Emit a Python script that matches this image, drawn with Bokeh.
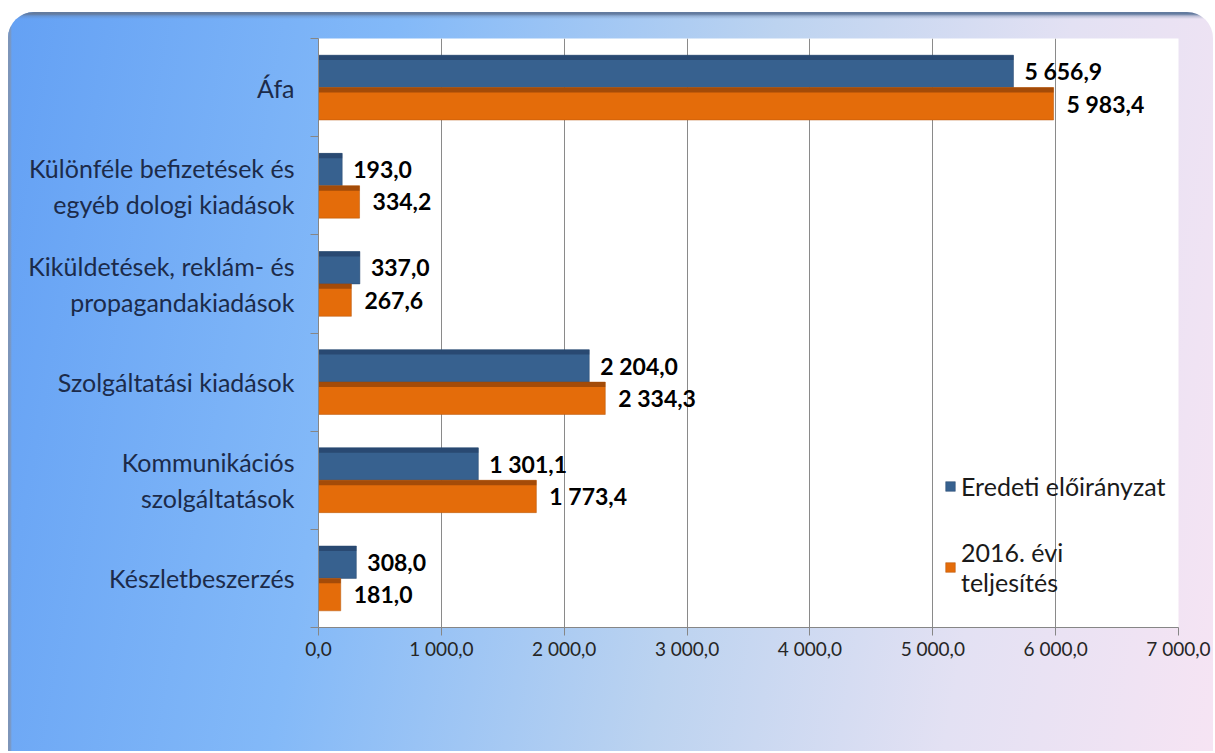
from bokeh.plotting import figure
from bokeh.models import (Range1d, LinearAxis, FixedTicker,
                          ColumnDataSource, Legend, LegendItem)
from bokeh.transform import dodge
from bokeh.core.properties import value
from bokeh.embed import file_html
from bokeh.resources import INLINE

# ---- data ----
categories = [
    "Áfa",
    "Különféle befizetések és\negyéb dologi kiadások",
    "Kiküldetések, reklám- és\npropagandakiadások",
    "Szolgáltatási kiadások",
    "Kommunikációs\nszolgáltatások",
    "Készletbeszerzés",
]
eredeti = [5656.9, 193.0, 337.0, 2204.0, 1301.1, 308.0]
teljesites = [5983.4, 334.2, 267.6, 2334.3, 1773.4, 181.0]
series_names = ["Eredeti előirányzat", "2016. évi\nteljesítés"]
x_ticks = [0, 1000, 2000, 3000, 4000, 5000, 6000, 7000]
x_tick_labels = ["0,0", "1 000,0", "2 000,0", "3 000,0", "4 000,0", "5 000,0", "6 000,0", "7 000,0"]


def fmt(v):
    s = f"{v:,.1f}"
    return s.replace(",", " ").replace(".", ",")


n = len(categories)
pos = [n - i - 0.5 for i in range(n)]   # category slot centres, first category on top
bounds = list(range(n + 1))              # category slot boundaries

src = ColumnDataSource(dict(
    pos=pos,
    eredeti=eredeti,
    teljesites=teljesites,
    lab_e=[fmt(v) for v in eredeti],
    lab_t=[fmt(v) for v in teljesites],
))

FONT = "Lato"
BLUE = "#37618f"
ORANGE = "#e46c0a"

p = figure(width=1213, height=751,
           x_range=Range1d(0, 7000),
           y_range=Range1d(0, n),
           y_axis_location=None,
           output_backend="svg", toolbar_location=None,
           min_border_left=318, min_border_right=35,
           min_border_top=38, min_border_bottom=124)

p.border_fill_color = None
p.background_fill_color = "white"
p.outline_line_color = None
p.styles = {
    "background-image": ("linear-gradient(to bottom, #637b9f 0px, #637b9f 2px, rgba(99,123,159,0.35) 4px, rgba(99,123,159,0) 7px), "
                         "linear-gradient(to right, #7d95b9 0px, #7d95b9 2px, rgba(125,149,185,0) 4px), "
                         "linear-gradient(100deg, #63a0f4 0%, #83b9f8 30%, #bcd3f0 58%, #e3e1f3 80%, #f6e4f3 100%)"),
    "background-position": "0px 12px, 8px 0px, 0px 0px",
    "background-size": "100% 7px, 4px 100%, 100% 100%",
    "background-repeat": "no-repeat",
    "clip-path": "inset(12px 0px 0px 8px round 26px 26px 0px 0px)",
}

# bars
r_e = p.hbar(y=dodge("pos", 0.165), right="eredeti", left=0, height=0.33,
             source=src, fill_color=BLUE, line_color="#2a4a70", line_width=0.5)
r_t = p.hbar(y=dodge("pos", -0.165), right="teljesites", left=0, height=0.33,
             source=src, fill_color=ORANGE, line_color="#b65508", line_width=0.5)
# darker top edge for the shaded look
p.hbar(y=dodge("pos", 0.165 + 0.14), right="eredeti", left=0, height=0.05,
       source=src, fill_color="#26446a", fill_alpha=0.8, line_color=None)
p.hbar(y=dodge("pos", -0.165 + 0.14), right="teljesites", left=0, height=0.05,
       source=src, fill_color="#934408", fill_alpha=0.8, line_color=None)

# value labels
p.text(x="eredeti", y=dodge("pos", 0.165), text="lab_e", source=src,
       x_offset=11, text_baseline="middle", text_align="left",
       text_font=value(FONT), text_font_style="bold", text_font_size="23px", text_color="black")
p.text(x="teljesites", y=dodge("pos", -0.165), text="lab_t", source=src,
       x_offset=13, text_baseline="middle", text_align="left",
       text_font=value(FONT), text_font_style="bold", text_font_size="23px", text_color="black")

# x axis
xa = p.xaxis[0]
xa.ticker = FixedTicker(ticks=x_ticks)
xa.major_label_overrides = {t: l for t, l in zip(x_ticks, x_tick_labels)}
xa.major_label_text_font = FONT
xa.major_label_text_font_size = "19px"
xa.major_label_text_color = "#262626"
xa.major_tick_out = 8
xa.major_tick_in = 0
xa.minor_tick_line_color = None
xa.axis_line_color = "#868686"
xa.major_tick_line_color = "#868686"
xa.major_label_standoff = 1

p.xgrid.ticker = FixedTicker(ticks=x_ticks)
p.xgrid.grid_line_color = "#8a8a8a"
p.ygrid.grid_line_color = None

# left: category names, tick marks at slot boundaries (minor ticks)
ca = LinearAxis(ticker=FixedTicker(ticks=pos, minor_ticks=bounds))
ca.major_label_overrides = {pp: c for pp, c in zip(pos, categories)}
ca.axis_line_color = "#868686"
ca.major_tick_line_color = None
ca.major_tick_out = 0
ca.major_tick_in = 0
ca.minor_tick_line_color = "#868686"
ca.minor_tick_out = 8
ca.minor_tick_in = 0
ca.major_label_text_font = FONT
ca.major_label_text_font_size = "25px"
ca.major_label_text_color = "#1c2b4a"
ca.major_label_standoff = 16
p.add_layout(ca, "left")

legend = Legend(items=[LegendItem(label=series_names[0], renderers=[r_e]),
                       LegendItem(label=series_names[1], renderers=[r_t])],
                location=(626, 30), glyph_width=12, glyph_height=12,
                label_text_font=FONT, label_text_font_size="25px", label_text_color="#1a1a1a",
                background_fill_alpha=0, border_line_color=None, spacing=36,
                label_standoff=5, padding=0, margin=0)
p.add_layout(legend)

open("out.html", "w").write(file_html(p, INLINE))
